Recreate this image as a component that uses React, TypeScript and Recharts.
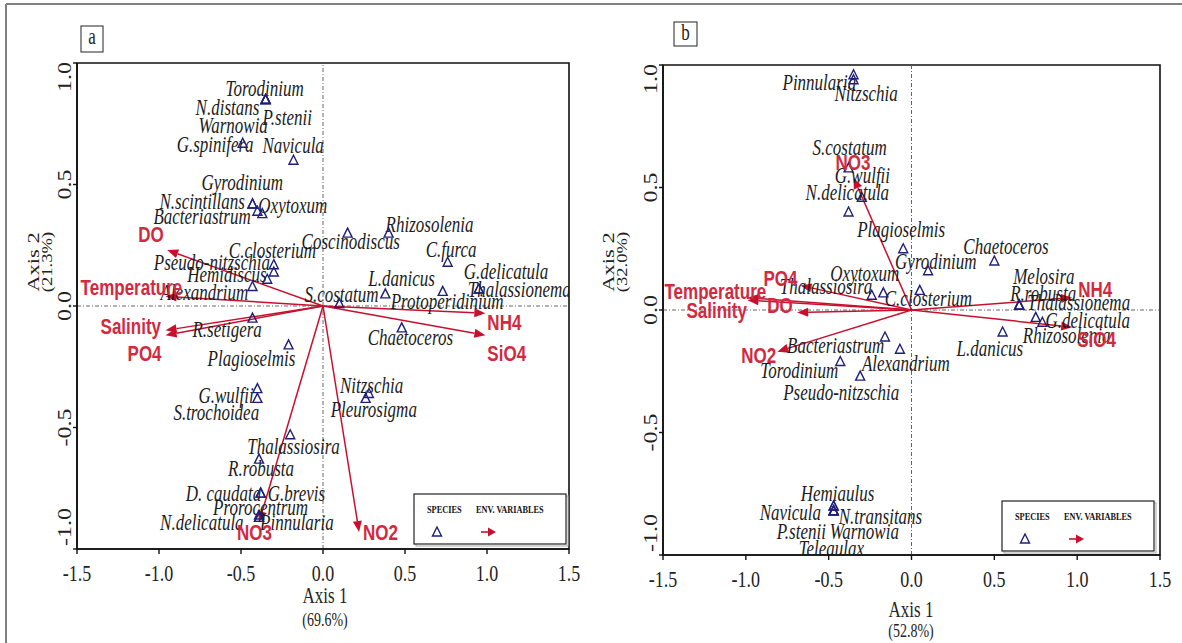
import React from "react";
import {
  ReferenceArea,
  ReferenceLine,
  Scatter,
  ScatterChart,
  XAxis,
  YAxis,
} from "recharts";

// ---- data: panel a ----
const speciesA = [
  "Torodinium", "N.distans", "P.stenii", "Warnowia", "G.spinifera", "Navicula",
  "Gyrodinium", "N.scintillans", "Oxytoxum", "Bacteriastrum", "C.closterium",
  "Pseudo-nitzschia", "Hemidiscus", "Alexandrium", "S.costatum", "Coscinodiscus",
  "Rhizosolenia", "C.furca", "L.danicus", "Protoperidinium", "G.delicatula",
  "Thalassionema", "Chaetoceros", "Nitzschia", "Pleurosigma", "R.setigera",
  "Plagioselmis", "G.wulfii", "S.trochoidea", "Thalassiosira", "R.robusta",
  "D. caudata", "G.brevis", "Prorocentrum", "N.delicatula", "Pinnularia",
];
const speciesAxis1A = [
  -0.35, -0.35, -0.35, -0.35, -0.49, -0.18, -0.43, -0.43, -0.37, -0.4, -0.3,
  -0.3, -0.34, -0.43, 0.1, 0.15, 0.4, 0.76, 0.38, 0.73, 0.95, 0.95, 0.48, 0.28,
  0.26, -0.43, -0.21, -0.4, -0.4, -0.2, -0.39, -0.38, -0.38, -0.39, -0.39, -0.39,
];
const speciesAxis2A = [
  0.85, 0.85, 0.85, 0.85, 0.67, 0.6, 0.42, 0.42, 0.38, 0.39, 0.17, 0.14, 0.11,
  0.08, 0.01, 0.3, 0.3, 0.18, 0.05, 0.06, 0.07, 0.07, -0.09, -0.36, -0.38,
  -0.05, -0.16, -0.34, -0.38, -0.53, -0.63, -0.77, -0.77, -0.86, -0.87, -0.87,
];

const envNames = ["DO", "Temperature", "Salinity", "PO4", "NH4", "SiO4", "NO2", "NO3"];
const envAxis1A = [-0.95, -0.96, -0.96, -0.96, 0.99, 0.99, 0.22, -0.39];
const envAxis2A = [0.23, 0.04, -0.1, -0.12, -0.03, -0.12, -0.93, -0.89];

// ---- data: panel b ----
const speciesB = [
  "Pinnularia", "Nitzschia", "S.costatum", "G.wulfii", "N.delicatula",
  "Plagioselmis", "Gyrodinium", "Chaetoceros", "C.closterium", "Oxytoxum",
  "Thalassiosira", "Melosira", "R.robusta", "Thalassionema", "G.delicatula",
  "Rhizosolenia", "L.danicus", "Bacteriastrum", "Alexandrium", "Torodinium",
  "Pseudo-nitzschia", "Hemiaulus", "Navicula", "N.transitans", "P.stenii",
  "Warnowia", "Teleaulax",
];
const speciesAxis1B = [
  -0.35, -0.35, -0.38, -0.3, -0.38, -0.05, 0.1, 0.5, 0.05, -0.17, -0.24, 0.65,
  0.65, 0.65, 0.79, 0.75, 0.55, -0.16, -0.07, -0.43, -0.31, -0.47, -0.47,
  -0.47, -0.47, -0.47, -0.47,
];
const speciesAxis2B = [
  0.96, 0.94, 0.58, 0.46, 0.4, 0.25, 0.16, 0.2, 0.08, 0.07, 0.06, 0.02, 0.02,
  0.02, -0.05, -0.03, -0.09, -0.11, -0.16, -0.21, -0.27, -0.8, -0.8, -0.82,
  -0.82, -0.82, -0.82,
];
const envAxis1B = [-0.69, -0.99, -0.99, -0.67, 0.97, 0.97, -0.81, -0.35];
const envAxis2B = [-0.01, 0.05, 0.04, 0.1, 0.05, -0.07, -0.17, 0.54];

const xTicks = [-1.5, -1, -0.5, 0, 0.5, 1, 1.5];
const yTicks = [-1, -0.5, 0, 0.5, 1];

// label placement (pixels from the marker), kept apart from the values
const labelPosA: Record<string, [number, number]> = {
  Torodinium: [-40, -3], "N.distans": [-70, 16], "P.stenii": [-3, 26],
  Warnowia: [-67, 34], "G.spinifera": [-66, 9], Navicula: [-31, -7],
  Gyrodinium: [-51, -14], "N.scintillans": [-93, 5], Oxytoxum: [-4, -1],
  Bacteriastrum: [-104, 13], "C.closterium": [-45, -7],
  "Pseudo-nitzschia": [-120, -2], Hemidiscus: [-80, 3], Alexandrium: [-92, 13],
  "S.costatum": [-35, -2], Coscinodiscus: [-46, 16], Rhizosolenia: [-3, -1],
  "C.furca": [-22, -5], "L.danicus": [-17, -8], Protoperidinium: [-52, 18],
  "G.delicatula": [-15, -10], Thalassionema: [-11, 8], Chaetoceros: [-34, 17],
  Nitzschia: [-29, 0], Pleurosigma: [-35, 19], "R.setigera": [-60, 19],
  Plagioselmis: [-81, 21], "G.wulfii": [-59, 14], "S.trochoidea": [-84, 22],
  Thalassiosira: [-43, 19], "R.robusta": [-31, 17], "D. caudata": [-75, 8],
  "G.brevis": [7, 8], Prorocentrum: [-46, 0], "N.delicatula": [-99, 13],
  Pinnularia: [1, 13],
};
const envPosA: Record<string, [number, number]> = {
  DO: [-29, -8], Temperature: [-85, -1], Salinity: [-65, 4], PO4: [-38, 26],
  NH4: [2, 17], SiO4: [2, 26], NO2: [4, 8], NO3: [-22, 18],
};
const labelPosB: Record<string, [number, number]> = {
  Pinnularia: [-71, 15], Nitzschia: [-19, 21], "S.costatum": [-36, -13],
  "G.wulfii": [-27, -14], "N.delicatula": [-43, -12], Plagioselmis: [-46, -12],
  Gyrodinium: [-33, -2], Chaetoceros: [-31, -7], "C.closterium": [-35, 16],
  Oxytoxum: [-53, -12], Thalassiosira: [-92, -1], Melosira: [-6, -21],
  "R.robusta": [-9, -4], Thalassionema: [8, 5], "G.delicatula": [3, 6],
  Rhizosolenia: [-13, 26], "L.danicus": [-46, 24], Bacteriastrum: [-98, 16],
  Alexandrium: [-38, 22], Torodinium: [-80, 17], "Pseudo-nitzschia": [-77, 24],
  Hemiaulus: [-33, -5], Navicula: [-74, 14], "N.transitans": [5, 13],
  "P.stenii": [-57, 28], Warnowia: [-4, 28], Teleaulax: [-35, 45],
};
const envPosB: Record<string, [number, number]> = {
  DO: [-30, 1], Temperature: [-83, 1], Salinity: [-61, 18], PO4: [-37, 0],
  NH4: [6, -1], SiO4: [5, 20], NO2: [-36, 11], NO3: [-18, -8],
};

const SERIF = "'Liberation Serif', 'Times New Roman', serif";
const SANS = "'Liberation Sans', Arial, sans-serif";
const STRETCH = 1.33; // the original figure is stretched vertically
const NAVY = "#1f1f7a";
const RED = "#c8102e";
const RED_TEXT = "#d3293f";
const INK = "#1c1c1c";

const zip = (names: string[], xs: number[], ys: number[]) =>
  names.map((name, i) => ({ name, x: xs[i], y: ys[i] }));

function SText({ x, y, children, ...rest }: any) {
  return (
    <text transform={`translate(${x},${y}) scale(1,${STRETCH})`} {...rest}>
      {children}
    </text>
  );
}

const speciesShape = (pos: Record<string, [number, number]>) => (p: any) => {
  const { cx, cy, payload } = p;
  const [dx, dy] = pos[payload.name] ?? [0, 0];
  return (
    <g>
      <SText
        x={cx + dx}
        y={cy + dy}
        fontFamily={SERIF}
        fontStyle="italic"
        fontSize={17}
        fill={INK}
      >
        {payload.name}
      </SText>
      <polygon
        points={`${cx},${cy - 5} ${cx - 4.5},${cy + 4} ${cx + 4.5},${cy + 4}`}
        fill="none"
        stroke={NAVY}
        strokeWidth={1.4}
      />
    </g>
  );
};

const envShape = (pos: Record<string, [number, number]>) => (p: any) => {
  const { cx, cy, payload } = p;
  const [dx, dy] = pos[payload.name] ?? [0, 0];
  return (
    <SText
      x={cx + dx}
      y={cy + dy}
      fontFamily={SANS}
      fontWeight="bold"
      fontSize={17}
      fill={RED_TEXT}
    >
      {payload.name}
    </SText>
  );
};

const arrowShape = (p: any) => {
  const { x1, y1, x2, y2 } = p;
  const a = Math.atan2(y2 - y1, x2 - x1);
  const c = Math.cos(a);
  const s = Math.sin(a);
  const L = 11;
  const W = 4.5;
  const bx = x2 - L * c;
  const by = y2 - L * s;
  return (
    <g>
      <line x1={x1} y1={y1} x2={bx} y2={by} stroke={RED} strokeWidth={1.5} />
      <polygon
        points={`${x2},${y2} ${bx - W * s},${by + W * c} ${bx + W * s},${by - W * c}`}
        fill={RED}
      />
    </g>
  );
};

const XTick = (p: any) => (
  <SText
    x={p.x}
    y={p.y + 25}
    textAnchor="middle"
    fontFamily={SERIF}
    fontSize={18}
    fill="#222"
  >
    {Number(p.payload.value).toFixed(1)}
  </SText>
);

const YTick = (p: any) => {
  const v = Number(p.payload.value);
  const anchor = v >= 1 ? "end" : v <= -1 ? "start" : "middle";
  const shift = v >= 1 ? -1 : v <= -1 ? -3 : 0;
  return (
    <text
      transform={`translate(${p.x},${p.y + shift}) scale(1,${STRETCH}) rotate(-90)`}
      textAnchor={anchor}
      fontFamily={SERIF}
      fontSize={18}
      fill="#222"
    >
      {v.toFixed(1)}
    </text>
  );
};

function Biplot(props: {
  width: number;
  margin: any;
  species: any[];
  env: any[];
  labelPos: Record<string, [number, number]>;
  envPos: Record<string, [number, number]>;
}) {
  const { width, margin, species, env, labelPos, envPos } = props;
  return (
    <ScatterChart width={width} height={643} margin={margin}>
      <XAxis
        type="number"
        dataKey="x"
        domain={[-1.5, 1.5]}
        ticks={xTicks}
        allowDataOverflow
        height={40}
        tickSize={5}
        tick={XTick}
        axisLine={{ stroke: "#111", strokeWidth: 1.6 }}
        tickLine={{ stroke: "#111", strokeWidth: 1.4 }}
      />
      <YAxis
        type="number"
        dataKey="y"
        domain={[-1, 1]}
        ticks={yTicks}
        allowDataOverflow
        width={60}
        tickSize={4}
        tickMargin={2}
        tick={YTick}
        axisLine={{ stroke: "#111", strokeWidth: 1.6 }}
        tickLine={{ stroke: "#111", strokeWidth: 1.4 }}
      />
      <ReferenceArea
        x1={-1.5}
        x2={1.5}
        y1={-1}
        y2={1}
        fill="none"
        fillOpacity={0}
        stroke="#111"
        strokeWidth={1.6}
      />
      <ReferenceLine x={0} stroke="#555" strokeWidth={0.9} strokeDasharray="4 2 1 2" />
      <ReferenceLine y={0} stroke="#555" strokeWidth={0.9} strokeDasharray="4 2 1 2" />
      <Scatter
        data={species}
        isAnimationActive={false}
        shape={speciesShape(labelPos)}
      />
      {env.map((e) => (
        <ReferenceLine
          key={e.name}
          segment={[
            { x: 0, y: 0 },
            { x: e.x, y: e.y },
          ]}
          shape={arrowShape}
        />
      ))}
      <Scatter data={env} isAnimationActive={false} shape={envShape(envPos)} />
    </ScatterChart>
  );
}

function LegendBox({ x, y }: { x: number; y: number }) {
  const ax = x + 73;
  const ay = y + 38;
  return (
    <g>
      <rect x={x + 2} y={y + 2} width={152} height={50} fill="none" stroke="#aaa" strokeWidth={1} />
      <rect x={x} y={y} width={152} height={50} fill="#fff" stroke="#222" strokeWidth={1.2} />
      <SText x={x + 13} y={y + 19} fontFamily={SERIF} fontWeight="bold" fontSize={8.3} fill="#111">
        SPECIES
      </SText>
      <SText x={x + 62} y={y + 19} fontFamily={SERIF} fontWeight="bold" fontSize={8.3} fill="#111">
        ENV. VARIABLES
      </SText>
      <polygon
        points={`${x + 23},${y + 33} ${x + 18.5},${y + 42} ${x + 27.5},${y + 42}`}
        fill="none"
        stroke={NAVY}
        strokeWidth={1.4}
      />
      <line x1={ax - 6} y1={ay} x2={ax + 2} y2={ay} stroke={RED} strokeWidth={1.6} />
      <polygon points={`${ax + 9},${ay} ${ax + 1},${ay - 4.5} ${ax + 1},${ay + 4.5}`} fill={RED} />
    </g>
  );
}

function Decorations() {
  const t = { fontFamily: SERIF, fill: "#222" };
  return (
    <svg
      width={1182}
      height={643}
      style={{ position: "absolute", left: 0, top: 0, pointerEvents: "none" }}
    >
      <line x1={6} y1={4} x2={1182} y2={4} stroke="#808080" strokeWidth={2} />
      <line x1={6} y1={4} x2={6} y2={643} stroke="#808080" strokeWidth={2} />

      <rect x={81} y={26} width={22} height={26} fill="#fff" stroke="#222" strokeWidth={1} />
      <SText x={92} y={44} textAnchor="middle" fontSize={17} {...t}>a</SText>
      <rect x={674} y={22} width={23} height={24} fill="#fff" stroke="#222" strokeWidth={1} />
      <SText x={685.5} y={40} textAnchor="middle" fontSize={17} {...t}>b</SText>

      <SText x={325} y={603} textAnchor="middle" fontSize={17} {...t}>Axis 1</SText>
      <SText x={325} y={626} textAnchor="middle" fontSize={14} {...t}>(69.6%)</SText>
      <SText x={911} y={617} textAnchor="middle" fontSize={17} {...t}>Axis 1</SText>
      <SText x={911} y={637} textAnchor="middle" fontSize={14} {...t}>(52.8%)</SText>

      <text transform={`translate(39,262) scale(1,${STRETCH}) rotate(-90)`} textAnchor="middle" fontSize={17} {...t}>Axis 2</text>
      <text transform={`translate(52,262) scale(1,${STRETCH}) rotate(-90)`} textAnchor="middle" fontSize={14} {...t}>(21.3%)</text>
      <text transform={`translate(614,262) scale(1,${STRETCH}) rotate(-90)`} textAnchor="middle" fontSize={17} {...t}>Axis 2</text>
      <text transform={`translate(627,262) scale(1,${STRETCH}) rotate(-90)`} textAnchor="middle" fontSize={14} {...t}>(32.0%)</text>

      <LegendBox x={414} y={494} />
      <LegendBox x={1002} y={501} />
    </svg>
  );
}

export default function App() {
  const sa = zip(speciesA, speciesAxis1A, speciesAxis2A);
  const ea = zip(envNames, envAxis1A, envAxis2A);
  const sb = zip(speciesB, speciesAxis1B, speciesAxis2B);
  const eb = zip(envNames, envAxis1B, envAxis2B);
  return (
    <div
      style={{
        position: "absolute",
        left: 0,
        top: 0,
        width: 1182,
        height: 643,
        background: "#fff",
        overflow: "hidden",
      }}
    >
      <div style={{ position: "absolute", left: 0, top: 0 }}>
        <Biplot
          width={600}
          margin={{ top: 63, right: 31, bottom: 54, left: 17 }}
          species={sa}
          env={ea}
          labelPos={labelPosA}
          envPos={envPosA}
        />
      </div>
      <div style={{ position: "absolute", left: 590, top: 0 }}>
        <Biplot
          width={592}
          margin={{ top: 65, right: 22, bottom: 48, left: 13 }}
          species={sb}
          env={eb}
          labelPos={labelPosB}
          envPos={envPosB}
        />
      </div>
      <Decorations />
    </div>
  );
}
